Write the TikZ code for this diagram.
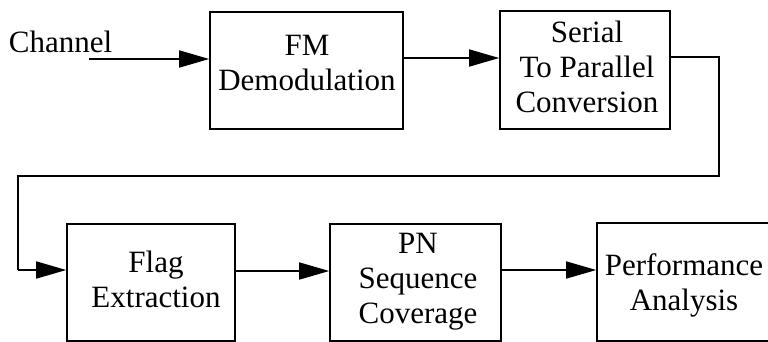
\documentclass[tikz,border=0pt]{standalone}
\usepackage{fontspec}
\setmainfont{Liberation Serif}
\usetikzlibrary{arrows.meta}
\newcommand{\btxt}[1]{\begin{tabular}[t]{@{}c@{}}#1\end{tabular}}
\begin{document}
\begin{tikzpicture}[x=1pt,y=-1pt,
  blk/.style={draw,line width=1.6pt,rectangle,inner sep=0pt},
  lbl/.style={anchor=base,inner sep=0pt,font=\fontsize{31}{35}\selectfont},
  conn/.style={line width=1.6pt},
  arr/.style={line width=1.6pt,-{Triangle[length=30pt,width=17pt]}}]
\useasboundingbox (0,0) rectangle (768,341);
\clip (0,0) rectangle (768,341);
% blocks
\node[blk,minimum width=193pt,minimum height=117pt] (fm) at (306.5,70.5) {};
\node[blk,minimum width=170pt,minimum height=118pt] (ser) at (585,70) {};
\node[blk,minimum width=168pt,minimum height=117pt] (flag) at (151,282.5) {};
\node[blk,minimum width=171pt,minimum height=117pt] (pn) at (415.5,282.5) {};
\node[blk,minimum width=175pt,minimum height=118pt] (perf) at (684.5,282) {};
% labels
\node[lbl] (tch) at (60.5,52) {\btxt{Channel}};
\node[lbl] (tfm) at (307,55) {\btxt{FM\\Demodulation}};
\node[lbl] (tser) at (587,42) {\btxt{Serial\\To Parallel\\Conversion}};
\node[lbl] (tflag) at (156,272) {\btxt{Flag\\Extraction}};
\node[lbl] (tpn) at (418,253) {\btxt{PN\\Sequence\\Coverage}};
\node[lbl] (tperf) at (684,275) {\btxt{Performance\\Analysis}};
% connectors
\coordinate (chs) at (89,59);
\draw[arr] (chs) -- (chs -| fm.west);
\coordinate (a1) at (0,58);
\draw[arr] (fm.east |- a1) -- (ser.west |- a1);
\coordinate (b0) at (0,57);
\coordinate (b1) at (719,57);
\coordinate (b2) at (719,176);
\coordinate (b3) at (18,176);
\coordinate (b4) at (18,270);
\draw[conn] (ser.east |- b0) -- (b1) -- (b2) -- (b3) -- (b4);
\draw[arr] (b4) -- (b4 -| flag.west);
\coordinate (c1) at (0,271);
\draw[arr] (flag.east |- c1) -- (pn.west |- c1);
\coordinate (d1) at (0,270);
\draw[arr] (pn.east |- d1) -- (perf.west |- d1);
\end{tikzpicture}
\end{document}
